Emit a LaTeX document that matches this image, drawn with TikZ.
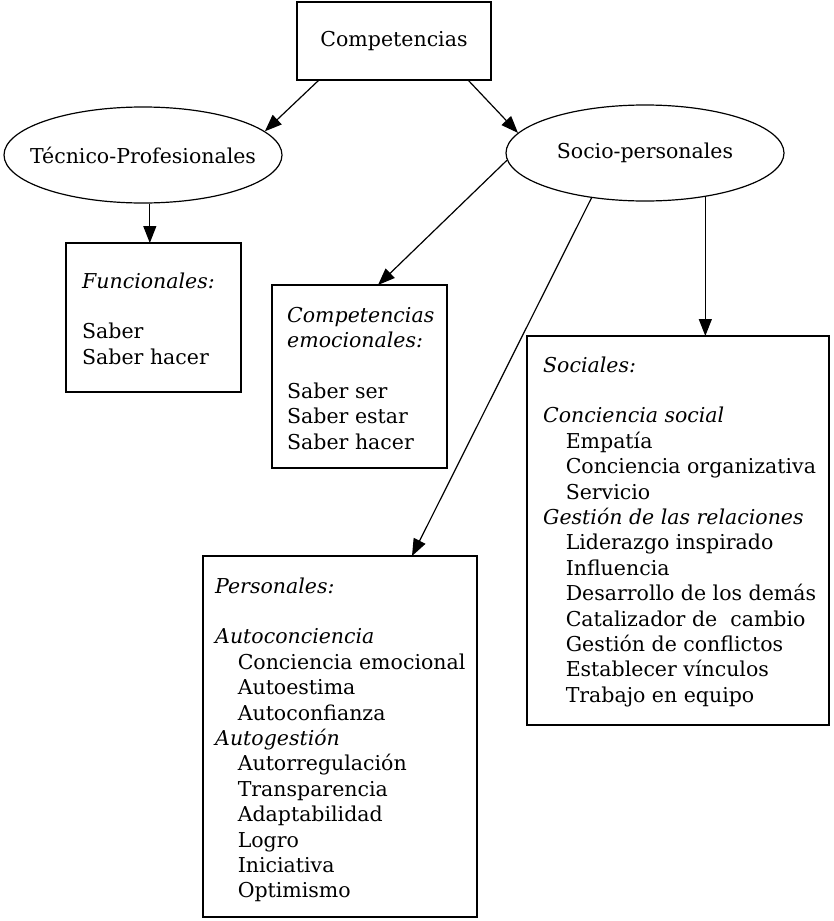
\documentclass[tikz,border=0pt]{standalone}
\usepackage{fontspec}
\setmainfont{DejaVu Serif}
\usepackage{tikz}
\usetikzlibrary{shapes.geometric,arrows.meta}
\newcommand{\sangria}{\hspace*{1.1em}}
\tikzset{
  caja/.style={draw, line width=1.2pt, inner sep=0pt, outer sep=0pt, anchor=north west},
  ovalo/.style={draw, ellipse, line width=1.2pt, minimum width=278pt, minimum height=96pt, inner sep=0pt},
  texto/.style={inner sep=0pt, anchor=base west},
  flecha/.style={line width=1.2pt, -{Triangle[length=17pt,width=13pt]}}
}
\begin{document}
\begin{tikzpicture}[x=1pt,y=-1pt,font=\fontsize{20.5}{25.4}\selectfont]
    \useasboundingbox (0,0) rectangle (833,921);
    % niveles
    \node[caja, anchor=center, minimum width=194pt, minimum height=78pt] (comp) at (394,41) {Competencias};
    \node[ovalo, inner xsep=-16pt] (tec) at (143,155) {Técnico-Profesionales};
    \node[ovalo] (socio) at (645,153) {Socio-personales};
    % cajas
    \node[caja, minimum width=175pt, minimum height=149pt] (func) at (66,243) {};
    \node[caja, minimum width=175pt, minimum height=183pt] (emoc) at (272,285) {};
    \node[caja, minimum width=302pt, minimum height=389pt] (soc) at (527,336) {};
    \node[caja, minimum width=274pt, minimum height=361pt] (pers) at (203,556) {};
    \node[texto] (functxt) at ([shift={(16,45)}]func.north west) {\begin{tabular}[t]{@{}l@{}}
        \textit{Funcionales:}\\ \\ Saber\\ Saber hacer\end{tabular}};
    \node[texto] (emoctxt) at ([shift={(15,37)}]emoc.north west) {\begin{tabular}[t]{@{}l@{}}
        \textit{Competencias}\\ \textit{emocionales:}\\ \\ Saber ser\\ Saber estar\\ Saber hacer\end{tabular}};
    \node[texto] (soctxt) at ([shift={(16,36)}]soc.north west) {\begin{tabular}[t]{@{}l@{}}
        \textit{Sociales:}\\ \\
        \textit{Conciencia social}\\
        \sangria Empatía\\ \sangria Conciencia organizativa\\ \sangria Servicio\\
        \textit{Gestión de las relaciones}\\
        \sangria Liderazgo inspirado\\ \sangria Influencia\\ \sangria Desarrollo de los demás\\
        \sangria Catalizador de\ \ cambio\\ \sangria Gestión de conflictos\\
        \sangria Establecer vínculos\\ \sangria Trabajo en equipo\end{tabular}};
    \node[texto] (perstxt) at ([shift={(12,37)}]pers.north west) {\begin{tabular}[t]{@{}l@{}}
        \textit{Personales:}\\ \\
        \textit{Autoconciencia}\\
        \sangria Conciencia emocional\\ \sangria Autoestima\\ \sangria Autoconfianza\\
        \textit{Autogestión}\\
        \sangria Autorregulación\\ \sangria Transparencia\\ \sangria Adaptabilidad\\
        \sangria Logro\\ \sangria Iniciativa\\ \sangria Optimismo\end{tabular}};
    % flechas
    \draw[flecha] ([xshift=22pt]comp.south west) -- (tec.11);
    \draw[flecha] ([xshift=-23pt]comp.south east) -- (socio.171);
    \draw[flecha] (tec.-82) -- (tec.-82 |- func.north);
    \draw[flecha] (socio.183) -- ([xshift=106pt]emoc.north west);
    \draw[flecha] (socio.220) -- ([xshift=209pt]pers.north west);
    \draw[flecha] (socio.-36) -- (socio.-36 |- soc.north);
\end{tikzpicture}
\end{document}
